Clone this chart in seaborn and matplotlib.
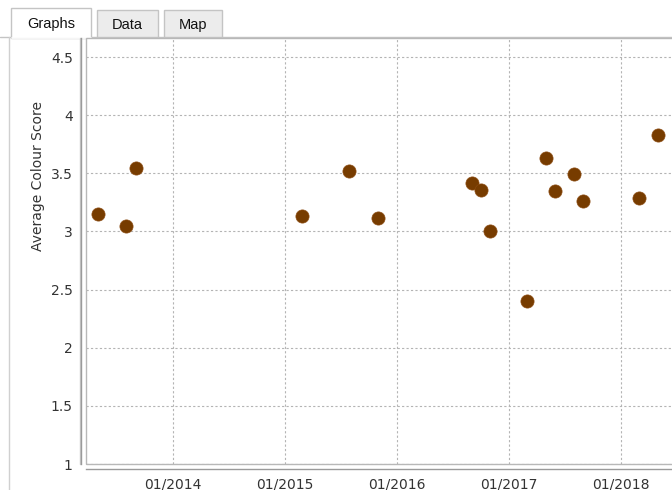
import matplotlib
matplotlib.use("Agg")
import matplotlib.pyplot as plt
import matplotlib.dates as mdates
from matplotlib.patches import Rectangle
import pandas as pd
import seaborn as sns

# ---- data ----
sample_dates = ["2013-05-01", "2013-08-01", "2013-09-01",
                "2015-02-27", "2015-07-29", "2015-10-30",
                "2016-09-01", "2016-10-01", "2016-11-01",
                "2017-03-01", "2017-05-01", "2017-06-01", "2017-07-31", "2017-08-30",
                "2018-03-01", "2018-05-01"]
colour_scores = [3.15, 3.05, 3.55,
                 3.13, 3.52, 3.12,
                 3.42, 3.36, 3.00,
                 2.40, 3.63, 3.35, 3.49, 3.26,
                 3.29, 3.83]
x_tick_dates = ["2014-01-01", "2015-01-01", "2016-01-01", "2017-01-01", "2018-01-01"]
y_ticks = [1, 1.5, 2, 2.5, 3, 3.5, 4, 4.5]
y_tick_labels = ["1", "1.5", "2", "2.5", "3", "3.5", "4", "4.5"]
tab_names = ["Graphs", "Data", "Map"]

df = pd.DataFrame({"date": pd.to_datetime(sample_dates), "score": colour_scores})

sns.set_theme(style="white")
plt.rcParams["font.family"] = ["DejaVu Sans"]

W, H = 672, 490
fig = plt.figure(figsize=(W / 100, H / 100), dpi=100)
fig.patch.set_facecolor("white")

# background overlay in pixel coordinates (tabs, panel border)
bg = fig.add_axes([0, 0, 1, 1])
bg.set_xlim(0, W)
bg.set_ylim(H, 0)
bg.axis("off")
bg.set_zorder(0)

border = "#c4c4c4"
# panel border
bg.plot([0, 11], [37.5, 37.5], color=border, lw=1)
bg.plot([91, W], [37.5, 37.5], color=border, lw=1)
bg.plot([8.5, 8.5], [37.5, H], color="#d0d0d0", lw=1)
# tabs
tabs = [(11, 8, 80, 30, "white"), (97, 10, 61, 28, "#ececec"), (164, 10, 58, 28, "#ececec")]
for (x0, y0, w, h, fc), name in zip(tabs, tab_names):
    bg.add_patch(Rectangle((x0, y0), w, h, facecolor=fc, edgecolor=border, lw=1))
    bg.text(x0 + w / 2, y0 + h / 2 + 1, name, ha="center", va="center",
            fontsize=10.5, color="#111111", family=["Liberation Sans", "DejaVu Sans"])
# cover the bottom border of the selected tab
bg.plot([11.5, 90.5], [38, 38], color="white", lw=1.2)

# main plot axes
left_px, right_px, top_px, bot_px = 86, 690, 38, 464
ax = fig.add_axes([left_px / W, (H - bot_px) / H, (right_px - left_px) / W, (bot_px - top_px) / H])
ax.set_zorder(1)
ax.set_facecolor("white")

sns.scatterplot(data=df, x="date", y="score", ax=ax, color="#773c00",
                s=90, edgecolor="#8a4a10", linewidth=0.5, zorder=5, legend=False)

# axis limits: 112 px per year, 01/2014 at x=173 px
px_per_day = 112 / 365.25
d2014 = mdates.date2num(pd.Timestamp("2014-01-01"))
ax.set_xlim(d2014 - (173 - left_px) / px_per_day, d2014 + (right_px - 173) / px_per_day)
ax.set_ylim(1.0, 4.5 + 19 / 116)

ax.set_xticks([mdates.date2num(pd.Timestamp(d)) for d in x_tick_dates])
ax.xaxis.set_major_formatter(mdates.DateFormatter("%m/%Y"))
ax.set_yticks(y_ticks)
ax.set_yticklabels(y_tick_labels)

ax.grid(True, linestyle=(0, (2, 2)), color="#b4b4b4", linewidth=0.8)
ax.set_axisbelow(True)

for side in ["top", "right"]:
    ax.spines[side].set_visible(False)
ax.spines["left"].set_position(("outward", 3.5))
ax.spines["bottom"].set_position(("outward", 3.5))
for side in ["left", "bottom"]:
    ax.spines[side].set_color("#9a9a9a")
    ax.spines[side].set_linewidth(1.0)
# second line of double y axis
ax.plot([-6 / (right_px - left_px)] * 2, [0, 1.0], transform=ax.transAxes,
        color="#c8c8c8", lw=1, clip_on=False)
# plot frame
ax.add_patch(Rectangle((0, 0), 1, 1, transform=ax.transAxes, fill=False,
                       edgecolor="#b8b8b8", lw=1, clip_on=False, zorder=2))

ax.tick_params(axis="both", direction="out", length=3, width=0.8, color="#9a9a9a",
               labelsize=10, labelcolor="#333333", pad=3)
ax.set_xlabel("")
ax.set_ylabel("")

fig.text(38 / W, 1 - 176 / H, "Average Colour Score", rotation=90, ha="center", va="center",
         fontsize=10, color="#333333")

fig.savefig("out.png", dpi=100)
